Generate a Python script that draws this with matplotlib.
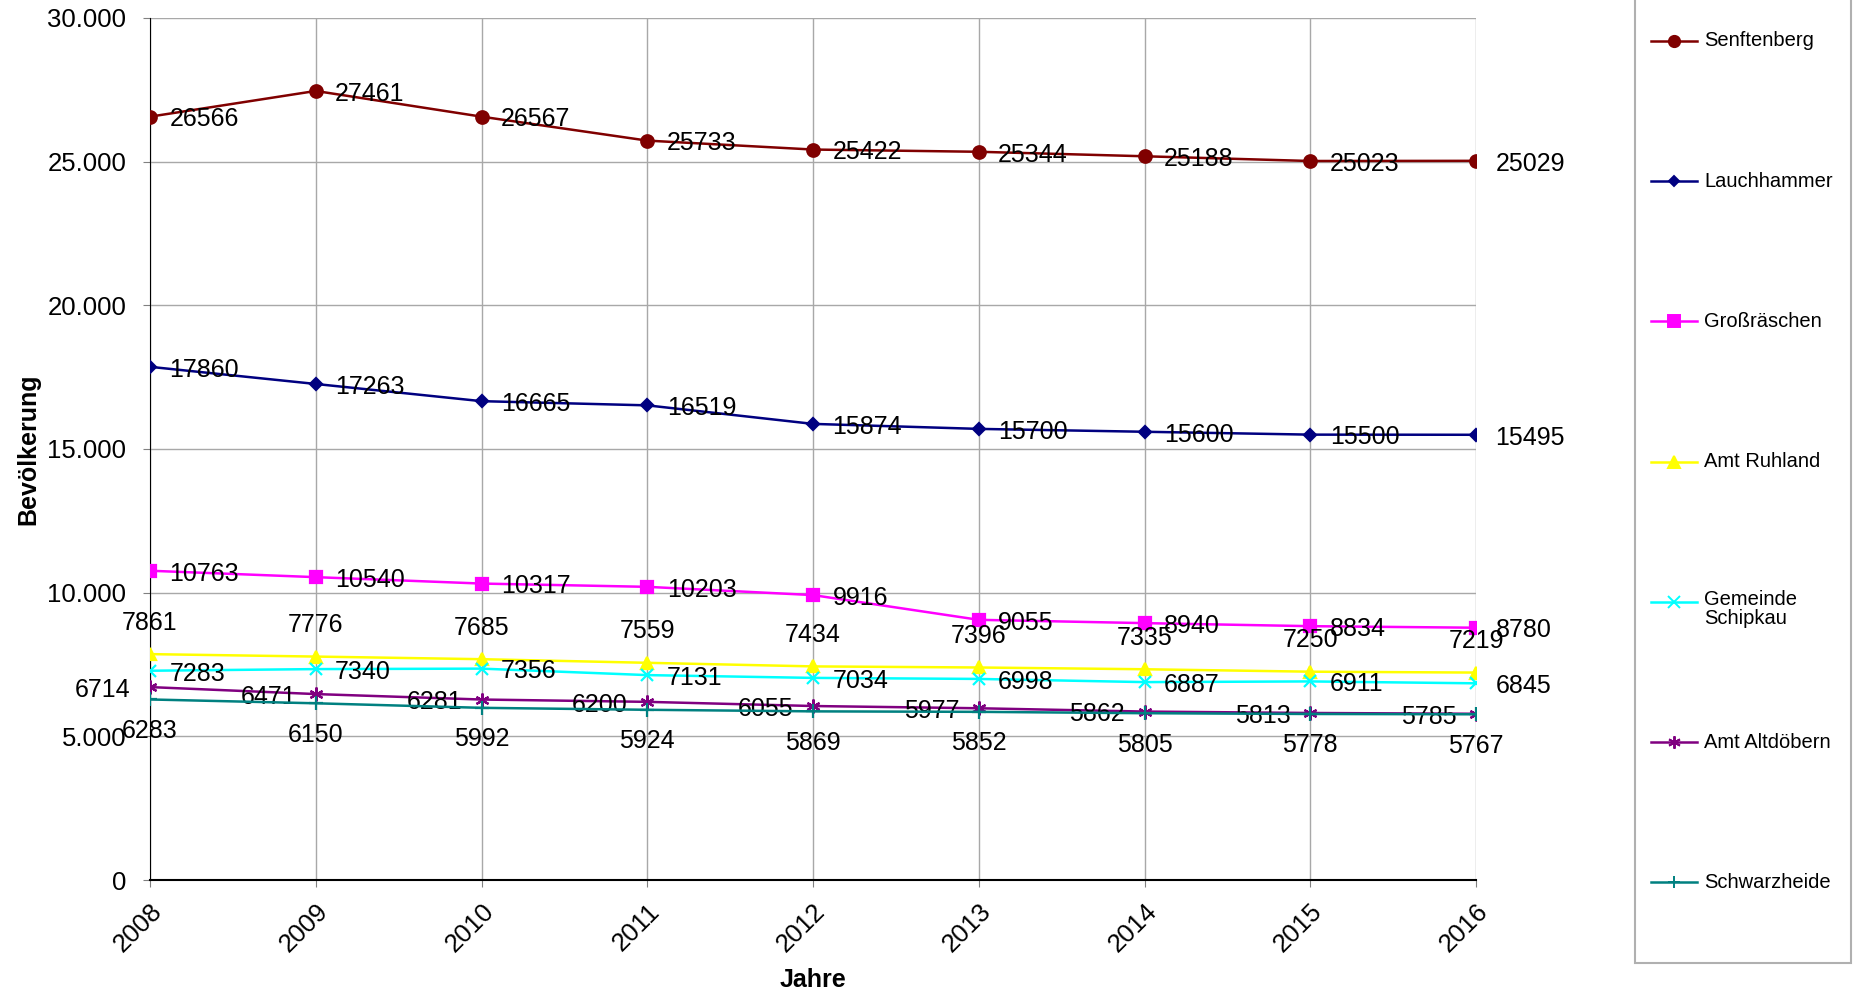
import matplotlib
matplotlib.use("Agg")
import matplotlib.pyplot as plt
from matplotlib.lines import Line2D
from matplotlib.patches import Rectangle
from matplotlib.ticker import FuncFormatter

plt.rcParams['font.family'] = ['Liberation Sans', 'DejaVu Sans']

years = [2008, 2009, 2010, 2011, 2012, 2013, 2014, 2015, 2016]

senftenberg = [26566, 27461, 26567, 25733, 25422, 25344, 25188, 25023, 25029]
lauchhammer = [17860, 17263, 16665, 16519, 15874, 15700, 15600, 15500, 15495]
grossraeschen = [10763, 10540, 10317, 10203, 9916, 9055, 8940, 8834, 8780]
ruhland = [7861, 7776, 7685, 7559, 7434, 7396, 7335, 7250, 7219]
schipkau = [7283, 7340, 7356, 7131, 7034, 6998, 6887, 6911, 6845]
altdoebern = [6714, 6471, 6281, 6200, 6055, 5977, 5862, 5813, 5785]
schwarzheide = [6283, 6150, 5992, 5924, 5869, 5852, 5805, 5778, 5767]

names = ['Senftenberg', 'Lauchhammer', 'Großräschen', 'Amt Ruhland',
         'Gemeinde\nSchipkau', 'Amt Altdöbern', 'Schwarzheide']
series = [senftenberg, lauchhammer, grossraeschen, ruhland, schipkau, altdoebern, schwarzheide]

# Farbe, Marker, Markergroesse, Beschriftungsposition
styles = [
    ('#800000', 'o', 9, 'right'),
    ('#000080', 'D', 6, 'right'),
    ('#ff00ff', 's', 9, 'right'),
    ('#ffff00', '^', 9, 'above'),
    ('#00ffff', 'x', 9, 'right'),
    ('#800080', (6, 2, 0), 10, 'left'),
    ('#008080', '+', 10, 'below'),
]

fig = plt.figure(figsize=(18.54, 9.96), dpi=100)
ax = fig.add_axes([150 / 1854, 116 / 996, 1326 / 1854, 862 / 996])

for vals, (col, mk, ms, pos) in zip(series, styles):
    ax.plot(years, vals, color=col, lw=1.8, marker=mk, markersize=ms,
            markeredgewidth=1.6, markerfacecolor=col, markeredgecolor=col, zorder=3)
    for x, y in zip(years, vals):
        if pos == 'right':
            ax.annotate(str(y), (x, y), xytext=(14, -2), textcoords='offset points',
                        ha='left', va='center', fontsize=18)
        elif pos == 'left':
            ax.annotate(str(y), (x, y), xytext=(-14, -2), textcoords='offset points',
                        ha='right', va='center', fontsize=18)
        elif pos == 'above':
            ax.annotate(str(y), (x, y), xytext=(0, 14), textcoords='offset points',
                        ha='center', va='bottom', fontsize=18)
        else:
            ax.annotate(str(y), (x, y), xytext=(0, -14), textcoords='offset points',
                        ha='center', va='top', fontsize=18)

ax.set_xlim(2008, 2016)
ax.set_ylim(0, 30000)
ax.set_yticks(range(0, 30001, 5000))
ax.yaxis.set_major_formatter(FuncFormatter(lambda v, p: f'{int(v):,}'.replace(',', '.')))
ax.set_xticks(years)
ax.set_xticklabels([str(y) for y in years], rotation=45, ha='right', va='top',
                   rotation_mode='anchor')
ax.tick_params(axis='both', labelsize=18.5, length=5, color='#808080')
ax.tick_params(axis='x', pad=9)
ax.tick_params(axis='y', pad=12)

ax.grid(True, color='#a8a8a8', lw=1)
ax.set_axisbelow(True)
for s in ['top', 'right']:
    ax.spines[s].set_visible(False)
ax.spines['left'].set_color('black')
ax.spines['bottom'].set_color('black')
ax.spines['bottom'].set_linewidth(1.5)

ax.set_ylabel('Bevölkerung', fontsize=18, fontweight='bold', labelpad=5)
ax.set_xlabel('Jahre', fontsize=18, fontweight='bold', labelpad=8)

# Legende von Hand, Eintraege gleichmaessig verteilt
fig.patches.append(Rectangle((1635 / 1854, 33 / 996), 216 / 1854, 980 / 996,
                             transform=fig.transFigure, facecolor='white',
                             edgecolor='#b0b0b0', lw=1.5))
for i, (name, (col, mk, ms, pos)) in enumerate(zip(names, styles)):
    yf = 1 - (41 + i * 140.2) / 996
    fig.add_artist(Line2D([1651 / 1854, 1697 / 1854], [yf, yf], transform=fig.transFigure,
                          color=col, lw=1.8))
    fig.add_artist(Line2D([1674 / 1854], [yf], transform=fig.transFigure, color=col,
                          marker=mk, markersize=ms * 0.9, markeredgewidth=1.4,
                          markerfacecolor=col, markeredgecolor=col))
    fig.text(1704 / 1854, yf, name, fontsize=14.5, ha='left', va='top' if '\n' in name else 'center',
             linespacing=1.0,
             transform=fig.transFigure).set_y(yf + (0.012 if '\n' in name else 0))

fig.savefig('out.png', dpi=100)
